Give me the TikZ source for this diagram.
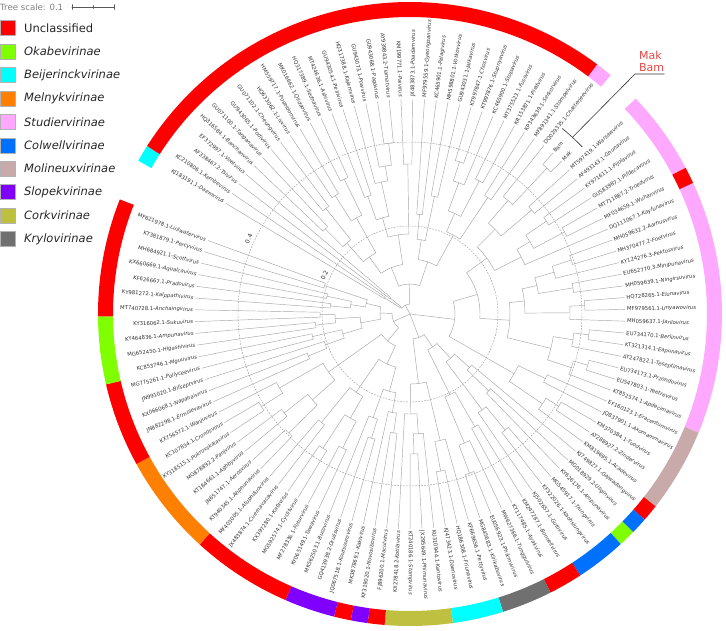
\documentclass[tikz,border=0pt]{standalone}
\usepackage{fontspec}
\setmainfont{DejaVu Sans}
\usetikzlibrary{calc}
\definecolor{uncl}{HTML}{FF0000}
\definecolor{okab}{HTML}{80FF00}
\definecolor{beij}{HTML}{00FFFF}
\definecolor{meln}{HTML}{FF8000}
\definecolor{stud}{HTML}{FFA8FF}
\definecolor{colw}{HTML}{0070FF}
\definecolor{moli}{HTML}{C8AAAA}
\definecolor{slop}{HTML}{8000FF}
\definecolor{cork}{HTML}{BFBF40}
\definecolor{kryl}{HTML}{707070}
\definecolor{markred}{HTML}{E84545}
% angle of leaf number #1
\newcommand{\lang}[1]{149-(#1-1)*3.144}
\newcommand{\vlab}[2]{#1-\textit{#2}}
% arc of a clade between its first and last child, stem down to the parent
\newcommand{\clade}[4]{%
  \draw[branch] ({\lang{#1}}:#3pt) arc[start angle={\lang{#1}}, end angle={\lang{#2}}, radius=#3pt];
  \draw[branch] ({\lang{(#1+#2)/2}}:#4pt) -- ({\lang{(#1+#2)/2}}:#3pt);}
\begin{document}
\begin{tikzpicture}[x=1pt, y=1pt, line join=round, line cap=round,
  branch/.style={draw=gray!70, line width=0.45pt},
  lbl/.style={font=\fontsize{5.3}{6}\selectfont, text=black!80, inner sep=0pt},
  scalecirc/.style={draw=gray!80, line width=0.45pt, dash pattern=on 1.5pt off 1.5pt},
  legbox/.style={draw=gray!60, minimum size=15pt, inner sep=0pt},
  legtxt/.style={font=\fontsize{11.5}{13}\selectfont, anchor=west, inner sep=0pt, text=black!85}]
\useasboundingbox (-410,-316) rectangle (316,314);
% legend
\node[anchor=west, inner sep=0pt, text=gray, font=\fontsize{8.6}{10}\selectfont] (ts) at (-410,307) {Tree scale: 0.1};
\coordinate (sa) at (-338,307);
\coordinate (sb) at (-296,307);
\draw[gray!70!black, line width=0.5pt] (sa) -- (sb) (sa) ++(0,-2.5) -- ++(0,5) (sb) ++(0,-2.5) -- ++(0,5) ($(sa)!0.5!(sb)$) ++(0,-1.5) -- ++(0,3);
\foreach \c/\t [count=\i from 0] in {uncl/Unclassified, okab/\textit{Okabevirinae}, beij/\textit{Beijerinckvirinae}, meln/\textit{Melnykvirinae}, stud/\textit{Studiervirinae}, colw/\textit{Colwellvirinae}, moli/\textit{Molineuxvirinae}, slop/\textit{Slopekvirinae}, cork/\textit{Corkvirinae}, kryl/\textit{Krylovirinae}}{
  \node[legbox, fill=\c] (b\i) at (-402.5,{286-23.45*\i}) {};
  \node[legtxt] (t\i) at (-386,{286-23.45*\i}) {\t};
}
% scale circles
\draw[scalecirc] (0,0) circle[radius=88pt];
\draw[scalecirc] (0,0) circle[radius=172pt];
\node[lbl, font=\fontsize{6}{7}\selectfont, rotate=65] (s2) at (155.5:94pt) {0.2};
\node[lbl, font=\fontsize{6}{7}\selectfont, rotate=65] (s4) at (155:178pt) {0.4};
% coloured ring
\foreach \a/\b/\c in {1/1/beij, 2/31/uncl, 32/32/stud, 35/39/stud, 40/40/uncl, 41/55/stud, 56/60/moli, 61/61/uncl, 62/62/colw, 63/63/okab, 64/66/colw, 67/68/uncl, 69/71/kryl, 72/74/beij, 75/78/cork, 79/79/uncl, 80/80/slop, 81/81/uncl, 82/84/slop, 85/90/uncl, 91/96/meln, 97/101/uncl, 102/105/okab, 106/112/uncl}{
  \draw[\c, line width=15pt, line cap=butt] ({\lang{\a}+1.572}:304.5pt) arc[start angle={\lang{\a}+1.572}, end angle={\lang{\b}-1.572}, radius=304.5pt];
}
% inner clades
\foreach \a/\b/\r/\p in {1/2/30/12, 3/4/25/12, 1.5/3.5/12/10,
  5/6/120/95, 7/8/135/95, 5.5/7.5/95/70, 9/10/140/110, 11/12/150/110, 9.5/11.5/110/70, 6.5/10.5/70/50,
  17/18/172/150, 16/17.5/150/135, 15/16.75/135/100, 13/14/125/100, 13.5/15.875/100/80, 19/20/150/80, 14.6875/19.5/80/50,
  8.5/17.09/50/30, 21/22/100/75, 23/24/120/75, 21.5/23.5/75/55, 25/26/160/140, 25.5/27/140/110,
  28/29/150/110, 26.25/28.5/110/90, 30/31/140/90, 27.375/30.5/90/55, 22.5/28.94/55/30, 12.8/25.72/30/10, 2.5/19.26/10/0,
  33/34/200/150, 32/33.5/150/120, 35/36/160/120, 32.75/35.5/120/95, 37/38/165/140, 39/40/175/140, 37.5/39.5/140/125,
  38.5/41/125/95, 34.125/39.75/95/70, 42/43/170/150, 42.5/44/150/130, 45/46/165/130, 43.25/45.5/130/115,
  47/48/175/160, 47.5/49/160/115, 44.375/48.25/115/100, 50/51/180/165, 50.5/52/165/145, 53/54/185/170, 53.5/55/170/145,
  51.25/54.25/145/100, 46.31/52.75/100/70, 36.94/49.53/70/45, 56/57/150/120, 58/59/175/160, 58.5/60/160/120,
  56.5/59.25/120/45, 43.24/57.875/45/0,
  62/63/110/80, 61/62.5/80/60, 64/65/150/120, 64.5/66/120/60, 61.75/65.25/60/40, 67/68/130/90,
  70/71/170/140, 69/70.5/140/90, 67.5/69.75/90/40, 63.5/68.625/40/25, 73/74/160/130, 72/73.5/130/70,
  76/77/140/120, 75/76.5/120/100, 75.75/78/100/70, 72.75/76.875/70/25, 66.06/74.81/25/0,
  79/80/120/100, 79.5/81/100/80, 82/83/130/110, 82.5/84/110/80, 80.25/83.25/80/55,
  85/86/150/120, 87/88/160/120, 85.5/87.5/120/95, 89/90/140/95, 86.5/89.5/95/55, 81.75/88/55/35,
  91/92/170/130, 93/94/160/130, 91.5/93.5/130/100, 95/96/175/150, 95.5/97/150/100, 92.5/96.25/100/35,
  84.875/94.375/35/18, 98/99/110/90, 98.5/100/90/70, 101/102/100/70, 99.25/101.5/70/50,
  103/104/95/75, 105/106/90/75, 103.5/105.5/75/50, 100.375/104.5/50/30,
  107/108/80/60, 109/110/85/60, 107.5/109.5/60/45, 111/112/90/45, 108.5/111.5/45/30,
  102.44/110/30/18, 89.625/106.22/18/0}{
  \clade{\a}{\b}{\r}{\p}
}
% leaves and their labels
\foreach \k/\rp/\t in {1/30/{\vlab{KJ183191.1}{Daemvirus}}, 2/30/{\vlab{KC210806.1}{Kembevirus}},
  3/25/{\vlab{AF338467.2}{Tsivirus}}, 4/25/{\vlab{EF372997.1}{Voetvirus}},
  5/120/{\vlab{HQ316584.1}{Banchanvirus}}, 6/120/{\vlab{GU071100.1}{Tanganavirus}},
  7/135/{\vlab{GU943065.1}{Podivirus}}, 8/135/{\vlab{GU071102.1}{Cheungvirus}},
  9/140/{\vlab{HQ633062.1}{Livvirus}}, 10/140/{\vlab{HM559717.1}{Poseidonvirus}},
  11/150/{\vlab{MK016662.1}{Qiidaovirus}}, 12/150/{\vlab{HQ317389.1}{Sednavirus}},
  13/125/{\vlab{MT424636.1}{Ashivirus}}, 14/125/{\vlab{GU943054.1}{Pelrivirus}},
  15/135/{\vlab{HQ317388.1}{Kajamvirus}}, 16/150/{\vlab{GU943073.1}{Powvirus}},
  17/172/{\vlab{GU943068.1}{Pagavirus}}, 18/172/{\vlab{AY939843.2}{Tiamatvirus}},
  19/150/{\vlab{KM199771.1}{Paivirus}}, 20/150/{\vlab{JX483873.1}{Paadamvirus}},
  21/100/{\vlab{MF979559.1}{Gyeongsanvirus}}, 22/100/{\vlab{KC465901.1}{Pelagivirus}},
  23/120/{\vlab{MH598801.1}{Votkovvirus}}, 24/120/{\vlab{GU943031.1}{Jalkavirus}},
  25/160/{\vlab{KT997847.1}{Chosvirus}}, 26/160/{\vlab{KT997876.1}{Stupnyavirus}},
  27/140/{\vlab{KC465900.1}{Stopavirus}}, 28/150/{\vlab{MT375523.1}{Fussvirus}},
  29/150/{\vlab{KR153871.1}{Piedvirus}}, 30/140/{\vlab{KP343639.1}{Serkorvirus}},
  31/140/{\vlab{MF891341.1}{Stompelvirus}}, 32/150/{\vlab{DQ029335.1}{Chatterjeevirus}},
  33/200/{Bam}, 34/200/{Mak},
  35/160/{\vlab{MT597419.1}{Warsawvirus}}, 36/160/{\vlab{AF493143.1}{Ghunavirus}},
  37/165/{\vlab{KY971611.1}{Pijolavirus}}, 38/165/{\vlab{GU583987.1}{Pifdecavirus}},
  39/175/{\vlab{MT711887.2}{Troedvirus}}, 40/175/{\vlab{MF034659.1}{Wuhanvirus}},
  41/125/{\vlab{DQ111067.1}{Kayfunavirus}}, 42/170/{\vlab{MH059632.2}{Aarhusvirus}},
  43/170/{\vlab{MH370477.2}{Foetvirus}}, 44/150/{\vlab{KY124276.3}{Pektosvirus}},
  45/165/{\vlab{EU652770.3}{Minipunavirus}}, 46/165/{\vlab{MH059639.1}{Ningirsuvirus}},
  47/175/{\vlab{HQ728265.1}{Elunavirus}}, 48/175/{\vlab{MF979561.1}{Unyawovirus}},
  49/160/{\vlab{MH059637.1}{Jarilovirus}}, 50/180/{\vlab{EU734170.1}{Berlinvirus}},
  51/180/{\vlab{KT321314.1}{Eapunavirus}}, 52/165/{\vlab{AY247822.1}{Teseptimavirus}},
  53/185/{\vlab{EU734173.1}{Przondovirus}}, 54/185/{\vlab{EU547803.1}{Teetrevirus}},
  55/170/{\vlab{KT852574.1}{Apdecimavirus}}, 56/150/{\vlab{EF160123.1}{Eracentumvirus}},
  57/150/{\vlab{JQ837901.1}{Axomammavirus}}, 58/175/{\vlab{KM370384.1}{Tuodvirus}},
  59/175/{\vlab{AY288927.2}{Zindervirus}}, 60/160/{\vlab{KM819695.1}{Acadevirus}},
  61/80/{\vlab{KJ749827.1}{Gajwadongvirus}}, 62/110/{\vlab{MG018929.2}{Uliginvirus}},
  63/110/{\vlab{KY626176.1}{Ampunavirus}}, 64/150/{\vlab{MG545917.1}{Trungvirus}},
  65/150/{\vlab{KF322026.1}{Kaohsiungvirus}}, 66/120/{\vlab{KJ502657.1}{Gutovirus}},
  67/130/{\vlab{KM247287.1}{Bonnellvirus}}, 68/130/{\vlab{KY117485.1}{Ayakvirus}},
  69/140/{\vlab{MW627366.1}{Tunggulvirus}}, 70/170/{\vlab{EU056923.1}{Phikmvvirus}},
  71/170/{\vlab{MG845683.1}{Kirikabuvirus}}, 72/130/{\vlab{KF669656.1}{Pettyvirus}},
  73/160/{\vlab{HQ186308.1}{Friunavirus}}, 74/160/{\vlab{KJ473423.1}{Daenovirus}},
  75/120/{\vlab{KU310944.1}{Kantovirus}}, 76/140/{\vlab{JX295649.1}{Phimunavirus}},
  77/140/{\vlab{KT240186.1}{Stompvirus}}, 78/100/{\vlab{KX278418.2}{Kotilavirus}},
  79/120/{\vlab{FJ896200.1}{Maculvirus}}, 80/120/{\vlab{KF319020.1}{Novosibovirus}},
  81/100/{\vlab{MK387869.1}{Kakivirus}}, 82/130/{\vlab{JQ067518.1}{Koutsourovirus}},
  83/130/{\vlab{GQ413938.2}{Drulisvirus}}, 84/110/{\vlab{MK562503.1}{Bucovirus}},
  85/150/{\vlab{KY065149.1}{Tawavirus}}, 86/150/{\vlab{MF278336.1}{Foturvirus}},
  87/160/{\vlab{MG592574.1}{Cyclitvirus}}, 88/160/{\vlab{KX397280.1}{Kafavirus}},
  89/140/{\vlab{JX483874.1}{Cuernavacavirus}}, 90/140/{\vlab{MF403005.1}{Atuphduovirus}},
  91/170/{\vlab{KT940345.1}{Ahphunavirus}}, 92/170/{\vlab{JN651747.1}{Aerosvirus}},
  93/160/{\vlab{KT184661.1}{Aghbyvirus}}, 94/160/{\vlab{MG878892.2}{Panjvirus}},
  95/175/{\vlab{KY318515.1}{Pokrovskaiavirus}}, 96/175/{\vlab{KC107834.1}{Cronosvirus}},
  97/150/{\vlab{KX756572.1}{Wanjuvirus}}, 98/110/{\vlab{JN882298.1}{Ermolevavirus}},
  99/110/{\vlab{KX066068.1}{Napahaivirus}}, 100/90/{\vlab{JN991020.1}{Bifseptvirus}},
  101/100/{\vlab{MG775261.1}{Pollyceevirus}}, 102/100/{\vlab{KC853746.1}{Mguuvirus}},
  103/95/{\vlab{MG652450.1}{Higashivirus}}, 104/95/{\vlab{KY464836.1}{Ampunavirus}},
  105/90/{\vlab{KY316062.1}{Sukuvirus}}, 106/90/{\vlab{MT740728.1}{Anchaingvirus}},
  107/80/{\vlab{KY981272.1}{Kalppathivirus}}, 108/80/{\vlab{KF626667.1}{Pradovirus}},
  109/85/{\vlab{KX660669.1}{Aqualcavirus}}, 110/85/{\vlab{MH684921.1}{Scottvirus}},
  111/90/{\vlab{KT381879.1}{Percyvirus}}, 112/90/{\vlab{MF621978.1}{Lullwatervirus}}}{
  \pgfmathsetmacro{\ang}{\lang{\k}}
  \pgfmathtruncatemacro{\rside}{cos(\ang)>0}
  \draw[branch] (\ang:\rp pt) -- (\ang:215pt);
  \ifnum\rside=1
    \node[lbl, anchor=west, rotate=\ang] (l\k) at (\ang:217pt) {\t};
  \else
    \node[lbl, anchor=east, rotate=\ang+180] (l\k) at (\ang:217pt) {\t};
  \fi
}
% Mak / Bam mark
\draw[gray!40!black, line width=0.6pt] (50.6:240pt) arc[start angle=50.6, end angle=44.2, radius=240pt];
\coordinate (bmk) at (47.4:240pt);
\coordinate (elbow) at (225,240);
\node[anchor=south west, align=left, inner sep=0pt, text=markred, font=\fontsize{11}{12.5}\selectfont] (mb) at (229,242) {Mak\\Bam};
\draw[gray!40!black, line width=0.6pt] (bmk) -- (elbow) -- (elbow -| mb.east);
\end{tikzpicture}
\end{document}
